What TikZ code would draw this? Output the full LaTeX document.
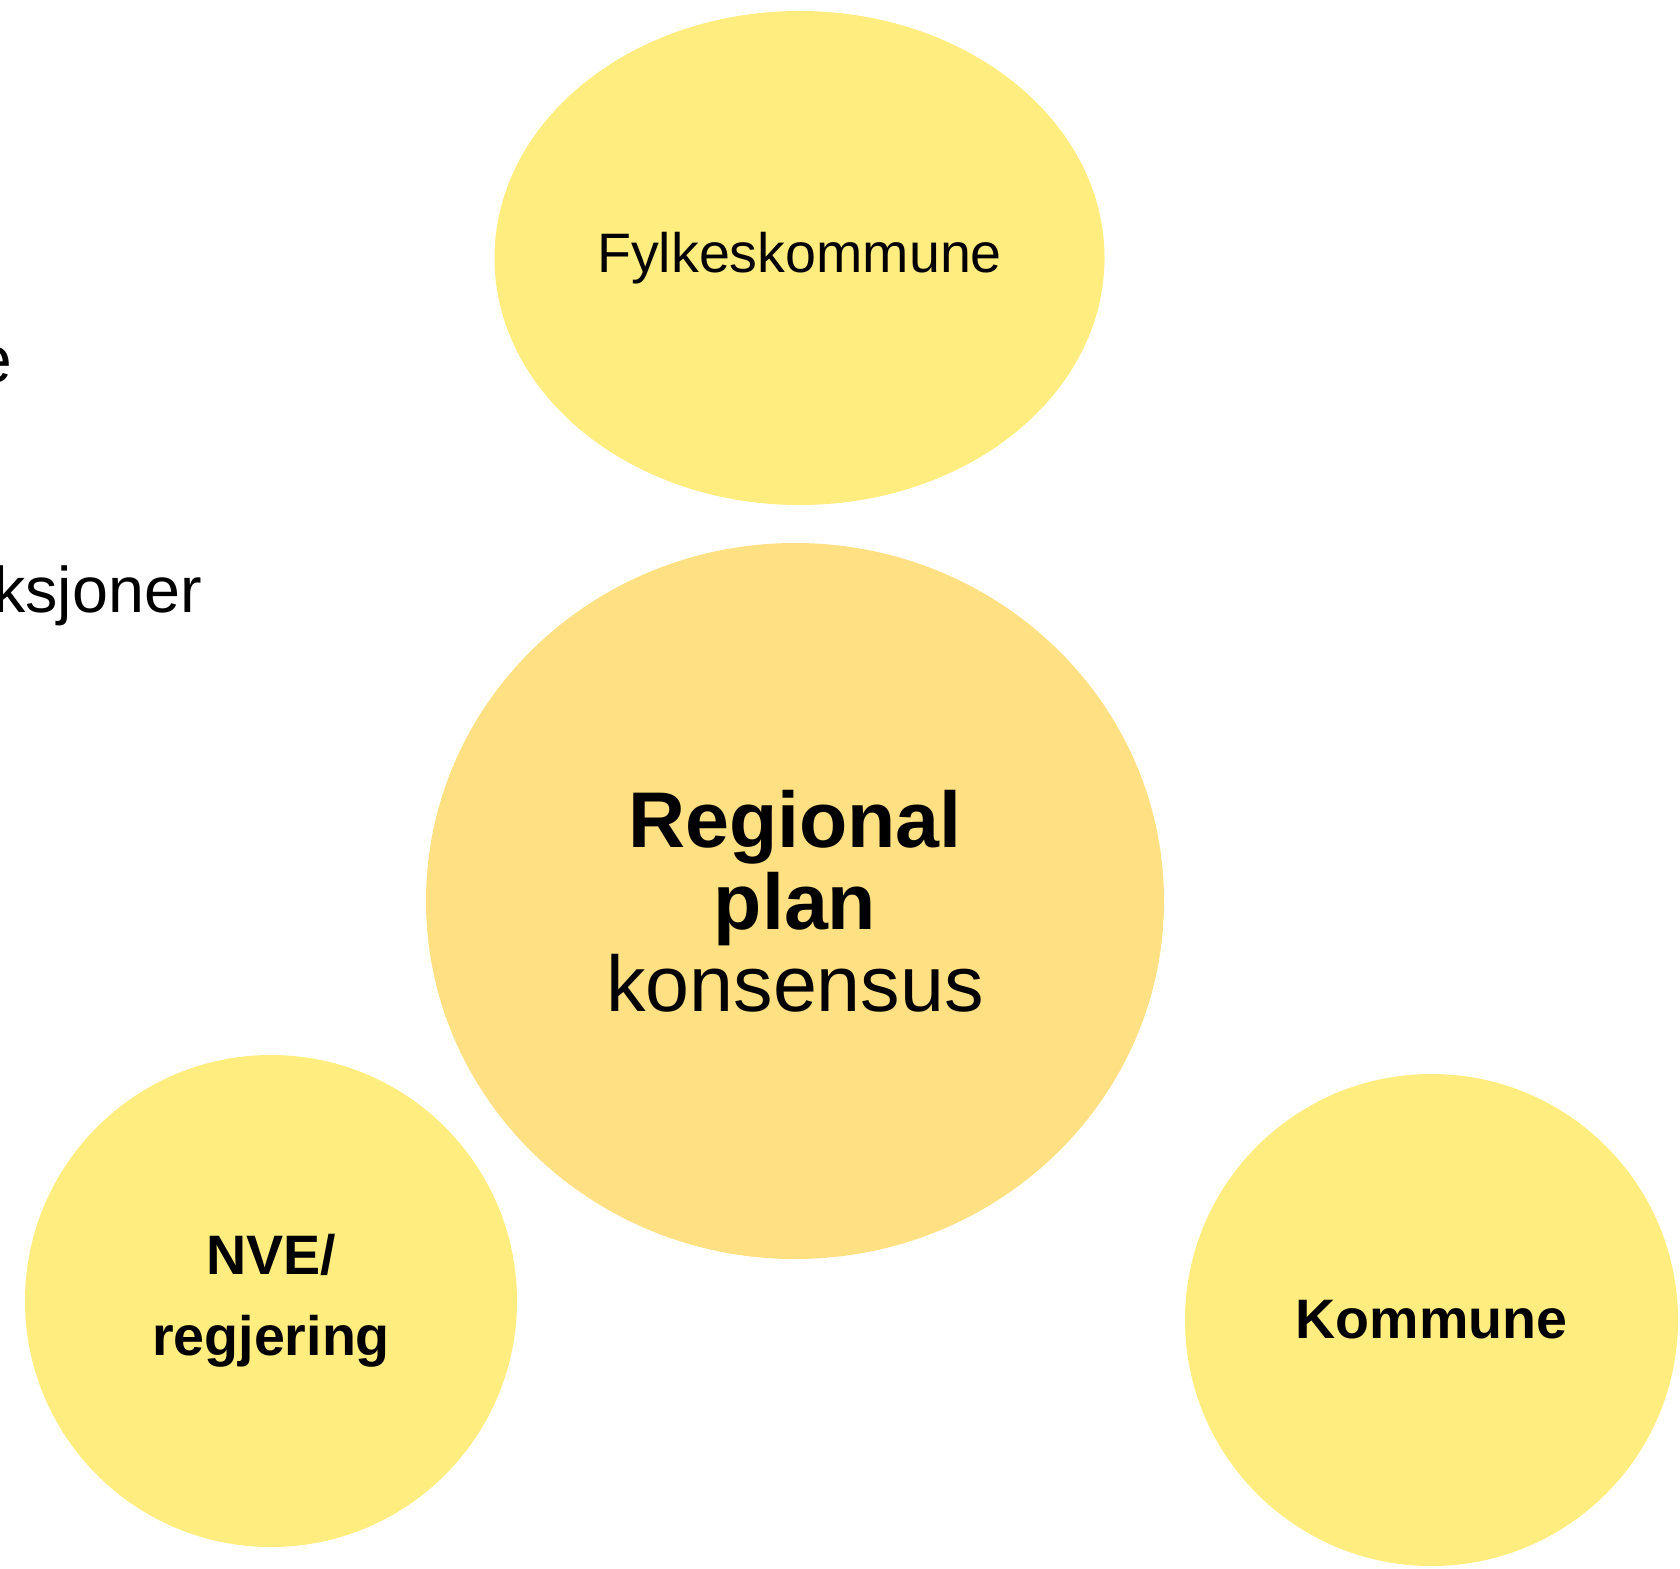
\documentclass[tikz,border=0pt]{standalone}
\usepackage{fontspec}
\setmainfont{Liberation Sans}
\usepackage{tikz}
\usetikzlibrary{shapes,positioning}
\definecolor{sideyellow}{HTML}{FFED80}
\definecolor{midyellow}{HTML}{FFE083}
\begin{document}
\begin{tikzpicture}[x=0.5pt,y=-0.5pt]
                \tikzstyle{every node}+=[inner sep=0pt]
                \tikzstyle{actor}=[ellipse,fill=sideyellow,font=\fontsize{27.8}{40.5}\selectfont,align=center]
                \tikzstyle{plan}=[ellipse,fill=midyellow,font=\fontsize{39.5}{41}\selectfont,align=center]
                \useasboundingbox (0,0) rectangle (1680,1568);
                \node [actor,minimum width=305pt,minimum height=247pt] (fylke) at (799.5,258) {Fylkeskommune};
                \node [plan,minimum width=369pt,minimum height=358pt] (regplan) at (795,901) {\textbf{Regional}\\\textbf{plan}\\konsensus};
                \node [actor,minimum width=246pt,minimum height=246pt] (nve) at (271,1301) {\textbf{NVE/}\\\textbf{regjering}};
                \node [actor,minimum width=246.5pt,minimum height=246pt] (kommune) at (1431.5,1320) {\textbf{Kommune}};
                \node [anchor=base east,font=\fontsize{33}{40}\selectfont] (restA) at (13,382) {e};
                \node [anchor=base east,font=\fontsize{32.3}{40}\selectfont] (restB) at (202,612) {ksjoner};
            \end{tikzpicture}
\end{document}
